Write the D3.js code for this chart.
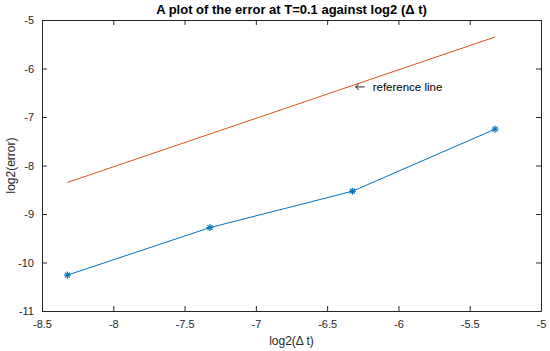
<!DOCTYPE html>
<html>
<head>
<meta charset="utf-8">
<script src="https://cdn.jsdelivr.net/npm/d3@7"></script>
<style>
  body { margin: 0; background: #fff; }
  svg { font-family: "Liberation Sans", Arial, sans-serif; }
</style>
</head>
<body>
<svg id="chart" width="550" height="351"></svg>
<script>
// ---- data ----
var logDt = [-8.3219, -7.3219, -6.3219, -5.3219];
var logErr = [-10.26, -9.28, -8.53, -7.25];
var refX = [-8.3219, -5.3219];
var refY = [-8.35, -5.35];
var xTicks = [-8.5, -8, -7.5, -7, -6.5, -6, -5.5, -5];
var yTicks = [-11, -10, -9, -8, -7, -6, -5];

var margin = { left: 42, right: 9, top: 20, bottom: 40 };
var width = 550, height = 351;

var svg = d3.select('#chart');

var x = d3.scaleLinear().domain([-8.5, -5]).range([margin.left, width - margin.right]);
var y = d3.scaleLinear().domain([-11, -5]).range([height - margin.bottom, margin.top]);

var axisColor = '#262626';
// matlab prints a plain hyphen, not the unicode minus
var fmt = function (d) { return String(d); };

// box + ticks, MATLAB style (ticks point inward)
var plot = svg.append('g');

var styleAxis = function (g) {
  g.selectAll('path.domain').attr('stroke', axisColor);
  g.selectAll('.tick line').attr('stroke', axisColor);
  g.selectAll('.tick text').attr('fill', axisColor).attr('font-size', '11px');
};

plot.append('g')
  .attr('transform', 'translate(0,' + y(-11) + ')')
  .call(d3.axisBottom(x).tickValues(xTicks).tickSize(-5).tickSizeOuter(0).tickPadding(9).tickFormat(fmt))
  .call(styleAxis);

plot.append('g')
  .attr('transform', 'translate(0,' + y(-5) + ')')
  .call(d3.axisTop(x).tickValues(xTicks).tickSize(-5).tickSizeOuter(0).tickFormat(''))
  .call(styleAxis);

plot.append('g')
  .attr('transform', 'translate(' + x(-8.5) + ',0)')
  .call(d3.axisLeft(y).tickValues(yTicks).tickSize(-5).tickSizeOuter(0).tickPadding(8).tickFormat(fmt))
  .call(styleAxis);

plot.append('g')
  .attr('transform', 'translate(' + x(-5) + ',0)')
  .call(d3.axisRight(y).tickValues(yTicks).tickSize(-5).tickSizeOuter(0).tickFormat(''))
  .call(styleAxis);

// reference line
var line = d3.line()
  .x(function (d) { return x(d[0]); })
  .y(function (d) { return y(d[1]); });

svg.append('path')
  .datum(d3.zip(refX, refY))
  .attr('d', line)
  .attr('fill', 'none')
  .attr('stroke', '#D95319')
  .attr('stroke-width', 1);

// error line
var pts = d3.zip(logDt, logErr);
svg.append('path')
  .datum(pts)
  .attr('d', line)
  .attr('fill', 'none')
  .attr('stroke', '#0072BD')
  .attr('stroke-width', 1);

// asterisk markers
var r = 3.5;
var markers = svg.append('g').selectAll('g.marker').data(pts).enter().append('g')
  .attr('class', 'marker')
  .attr('transform', function (d) { return 'translate(' + x(d[0]) + ',' + y(d[1]) + ')'; });

[0, 45, 90, 135].forEach(function (a) {
  var rad = a * Math.PI / 180;
  markers.append('line')
    .attr('x1', -r * Math.cos(rad)).attr('y1', -r * Math.sin(rad))
    .attr('x2', r * Math.cos(rad)).attr('y2', r * Math.sin(rad))
    .attr('stroke', '#0072BD')
    .attr('stroke-width', 1.2);
});

// annotation: arrow + text
var ax = x(-6.3), ay = y(-6.38);
var note = svg.append('g').attr('transform', 'translate(' + ax + ',' + ay + ')');
note.append('path')
  .attr('d', 'M0,0 H9 M0,0 L3,-3 M0,0 L3,3')
  .attr('fill', 'none')
  .attr('stroke', '#000')
  .attr('stroke-width', 0.9);
note.append('text')
  .attr('x', 17)
  .attr('y', 4)
  .attr('font-size', '11.5px')
  .attr('fill', '#000')
  .text('reference line');

// title
svg.append('text')
  .attr('x', (x(-8.5) + x(-5)) / 2)
  .attr('y', 14)
  .attr('text-anchor', 'middle')
  .attr('font-size', '13px')
  .attr('font-weight', 'bold')
  .attr('fill', '#000')
  .text('A plot of the error at T=0.1 against log2 (\u0394 t)');

// axis labels
svg.append('text')
  .attr('x', (x(-8.5) + x(-5)) / 2)
  .attr('y', 345)
  .attr('text-anchor', 'middle')
  .attr('font-size', '12px')
  .attr('fill', axisColor)
  .text('log2(\u0394 t)');

svg.append('text')
  .attr('transform', 'translate(15,' + (y(-8)) + ') rotate(-90)')
  .attr('text-anchor', 'middle')
  .attr('font-size', '12px')
  .attr('fill', axisColor)
  .text('log2(error)');
</script>
</body>
</html>
